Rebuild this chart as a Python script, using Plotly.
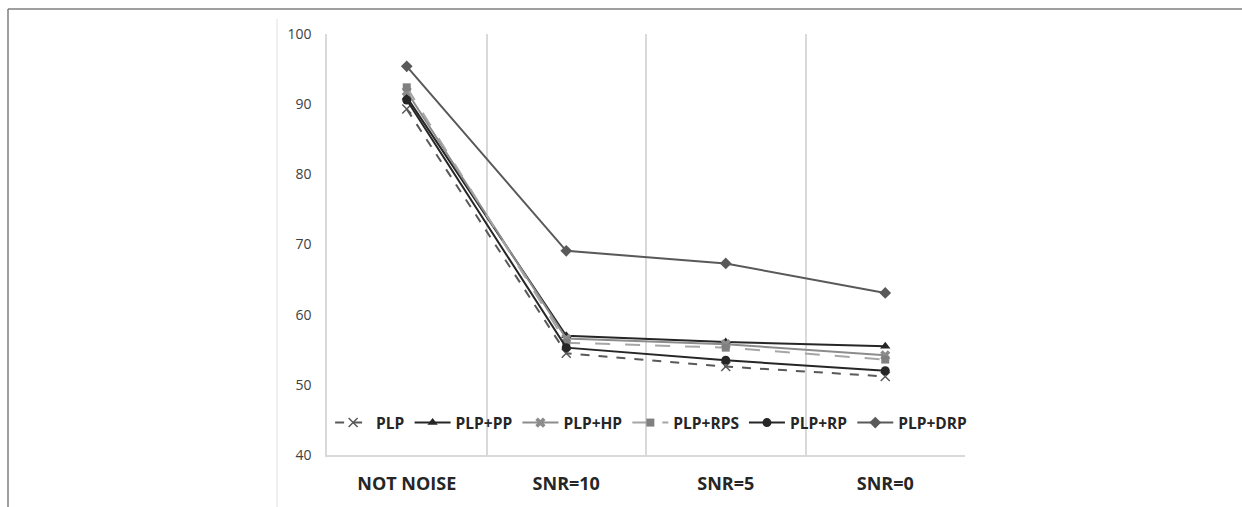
import plotly.graph_objects as go

categories = ["NOT NOISE", "SNR=10", "SNR=5", "SNR=0"]
plp = [89.3, 54.5, 52.6, 51.2]
plp_pp = [91.0, 57.0, 56.1, 55.5]
plp_hp = [91.8, 56.6, 55.8, 54.2]
plp_rps = [92.4, 56.0, 55.3, 53.6]
plp_rp = [90.6, 55.3, 53.5, 52.0]
plp_drp = [95.4, 69.1, 67.3, 63.1]
y_ticks = [40, 50, 60, 70, 80, 90, 100]

series = [
    ("PLP", plp, "#595959", "dash", "x-thin", 9, 1.5),
    ("PLP+PP", plp_pp, "#262626", "solid", "triangle-up", 9, 0),
    ("PLP+HP", plp_hp, "#8c8c8c", "solid", "x", 9, 0),
    ("PLP+RPS", plp_rps, "#a6a6a6", "longdash", "square", 8, 0),
    ("PLP+RP", plp_rp, "#262626", "solid", "circle", 9, 0),
    ("PLP+DRP", plp_drp, "#595959", "solid", "diamond", 9, 0),
]
marker_colors = {"PLP+RPS": "#808080"}

fig = go.Figure()
for name, vals, color, dash, sym, size, mlw in series:
    mc = marker_colors.get(name, color)
    fig.add_trace(go.Scatter(
        x=categories, y=vals, name=name, mode="lines+markers",
        line=dict(color=color, width=2, dash=dash),
        marker=dict(symbol=sym, size=size, color=mc,
                    line=dict(color=mc, width=mlw)),
    ))

W, H = 1242, 507
L, R, T, B = 327, 965, 34, 455
pw, ph = R - L, B - T

def px(x):
    return (x - L) / pw

def py(y):
    return (B - y) / ph

shapes = [
    dict(type="line", xref="paper", yref="paper", x0=px(8), x1=px(1242), y0=py(9), y1=py(9),
         line=dict(color="#7f7f7f", width=1.5)),
    dict(type="line", xref="paper", yref="paper", x0=px(8), x1=px(8), y0=py(9), y1=py(507),
         line=dict(color="#7f7f7f", width=1.5)),
    dict(type="line", xref="paper", yref="paper", x0=px(277), x1=px(277), y0=py(19), y1=py(507),
         line=dict(color="#e0e0e0", width=1)),
]

fig.update_layout(
    width=W, height=H,
    margin=dict(l=L, r=W - R, t=T, b=H - B),
    paper_bgcolor="white", plot_bgcolor="white",
    font=dict(family="Open Sans, sans-serif", color="#404040"),
    showlegend=True,
    legend=dict(orientation="h", x=0.508, y=py(423), xanchor="center", yanchor="middle",
                font=dict(size=15.5, color="#262626", weight="bold"),
                bgcolor="rgba(0,0,0,0)", itemwidth=36, tracegroupgap=0),
    shapes=shapes,
    xaxis=dict(type="category", tickson="boundaries", showgrid=True, automargin=False,
               gridcolor="#d9d9d9", gridwidth=1.5, showline=True, linecolor="#d9d9d9",
               linewidth=1.5, ticks="", range=[-0.5, 3.5],
               tickfont=dict(size=18, color="#262626", weight="bold"),
               ticklabelstandoff=12),
    yaxis=dict(range=[40, 100], tickvals=y_ticks, showgrid=False, zeroline=False,
               automargin=False,
               showline=True, linecolor="#d9d9d9", linewidth=1.5, ticks="",
               tickfont=dict(size=14, color="#404040"), ticklabelstandoff=11),
)

fig.write_html("out.html")
